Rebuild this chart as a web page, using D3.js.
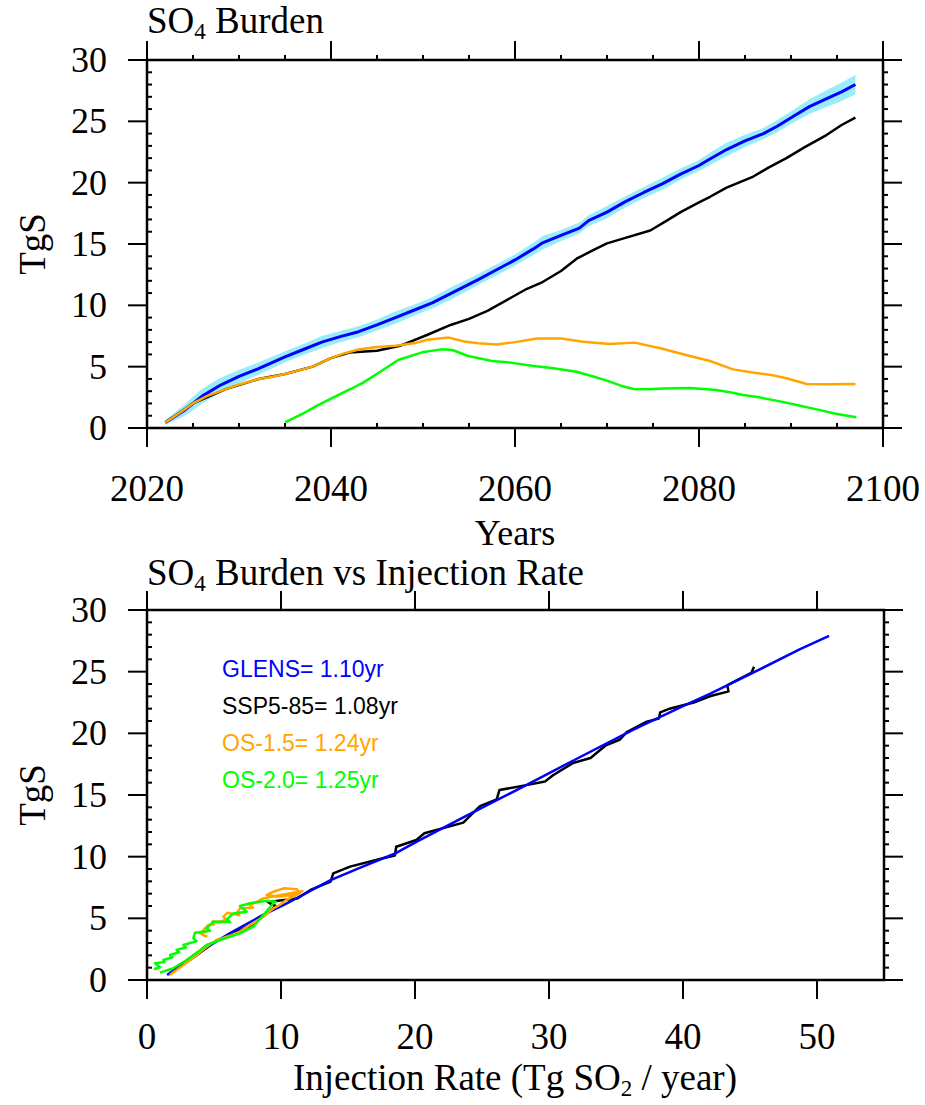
<!DOCTYPE html>
<html>
<head>
<meta charset="utf-8">
<script src="https://cdn.jsdelivr.net/npm/d3@7"></script>
<style>
  body { margin: 0; background: #fff; }
  svg text { font-family: "Liberation Serif", "Times New Roman", serif; fill: #000; }
  .legend text { font-family: "Liberation Sans", Arial, sans-serif; }
</style>
</head>
<body>
<svg id="chart" width="925" height="1105"></svg>
<script>
// ---- data: top panel, SO4 burden (TgS) by year ----
const glensYears = [2022, 2024, 2025, 2026, 2028, 2030, 2032, 2035, 2037, 2039, 2041, 2043, 2045, 2047, 2049, 2051, 2053, 2056, 2058, 2060, 2062, 2063, 2065, 2067, 2068, 2070, 2072, 2074, 2076, 2078, 2080, 2081, 2083, 2085, 2087, 2088.5, 2090, 2092, 2094, 2095.5, 2097];
const glensMean = [0.45, 1.4, 2.0, 2.6, 3.5, 4.2, 4.8, 5.8, 6.4, 7.0, 7.45, 7.85, 8.4, 9.0, 9.6, 10.2, 10.95, 12.1, 12.9, 13.7, 14.6, 15.1, 15.7, 16.3, 16.9, 17.6, 18.45, 19.2, 19.9, 20.7, 21.4, 21.85, 22.7, 23.4, 24.0, 24.6, 25.3, 26.2, 26.9, 27.4, 28.0];
const glensSpread = [0.2, 0.45, 0.55, 0.6, 0.6, 0.55, 0.5, 0.45, 0.45, 0.5, 0.45, 0.45, 0.45, 0.5, 0.45, 0.45, 0.5, 0.45, 0.45, 0.45, 0.5, 0.55, 0.45, 0.45, 0.45, 0.5, 0.45, 0.45, 0.5, 0.45, 0.45, 0.5, 0.55, 0.5, 0.45, 0.5, 0.5, 0.6, 0.7, 0.75, 0.8];

const sspYears = [2022, 2025, 2028.5, 2032, 2035, 2038, 2040, 2042, 2045, 2047.5, 2050.5, 2053, 2055, 2057, 2059.5, 2061.3, 2063, 2065, 2066.7, 2068.5, 2070, 2072, 2074.7, 2076.5, 2078, 2080, 2081.2, 2083, 2085.9, 2087.5, 2089.5, 2091.5, 2093.9, 2095.5, 2097];
const sspBurden = [0.45, 2.0, 3.15, 3.97, 4.4, 5.0, 5.7, 6.15, 6.3, 6.7, 7.6, 8.4, 8.9, 9.55, 10.6, 11.35, 11.9, 12.8, 13.8, 14.5, 15.05, 15.5, 16.1, 16.9, 17.6, 18.4, 18.85, 19.6, 20.5, 21.2, 22.0, 22.9, 23.9, 24.7, 25.3];

const os15Years = [2022, 2023.5, 2025, 2026.5, 2028.5, 2030, 2032, 2033.5, 2035, 2036.5, 2038, 2040, 2041.5, 2043, 2045, 2047, 2049, 2050.5, 2052.8, 2054.5, 2056, 2058, 2060, 2062.4, 2065, 2067.4, 2070.3, 2073, 2075.8, 2079, 2081.2, 2083.7, 2086, 2088, 2089.5, 2091.7, 2094, 2097];
const os15Burden = [0.45, 1.2, 2.0, 2.6, 3.15, 3.55, 3.97, 4.15, 4.4, 4.7, 5.0, 5.7, 6.1, 6.4, 6.6, 6.7, 6.9, 7.2, 7.37, 7.05, 6.9, 6.8, 7.0, 7.3, 7.3, 7.04, 6.85, 6.96, 6.5, 5.87, 5.46, 4.78, 4.5, 4.3, 4.05, 3.59, 3.56, 3.59];

const os20Years = [2035, 2037, 2038.6, 2040, 2042.2, 2043.5, 2045.1, 2047.3, 2049.9, 2052, 2053.2, 2054.9, 2057.5, 2059.5, 2062, 2064, 2066.7, 2068.5, 2070, 2071.5, 2072.9, 2074.5, 2076.1, 2079, 2081.9, 2083.5, 2084.8, 2086.5, 2088.4, 2090.5, 2092.8, 2095, 2097.1];
const os20Burden = [0.45, 1.2, 1.87, 2.4, 3.2, 3.7, 4.46, 5.54, 6.17, 6.41, 6.36, 5.87, 5.46, 5.33, 5.05, 4.9, 4.59, 4.2, 3.86, 3.45, 3.18, 3.15, 3.23, 3.26, 3.1, 2.9, 2.69, 2.5, 2.23, 1.9, 1.52, 1.14, 0.87];

// ---- data: bottom panel, burden (TgS) vs injection rate (Tg SO2/yr) ----
const glensRate = [1.5, 3.7, 6.2, 8.7, 10.4, 13.7, 16.1, 18.6, 20.1, 24, 28.3, 32, 36.3, 40, 42, 45.2, 48.7, 50.9];
const glensVsRate = [0.4, 2.16, 3.8, 5.3, 6.2, 8.1, 9.2, 10.3, 11.2, 13.4, 15.8, 17.9, 20.3, 22.2, 23.2, 24.9, 26.8, 27.9];

const sspRate = [1.6, 3.7, 5.2, 7.7, 9.2, 9.6, 9.2, 9.0, 9.6, 11.2, 12.2, 13.7, 13.9, 15.15, 17.6, 18.5, 18.6, 20.1, 20.7, 23.6, 24.85, 26.1, 26.3, 28.3, 29.7, 30.3, 31.8, 33.1, 34.2, 35.3, 35.8, 37.3, 38.2, 38.3, 39.0, 40.8, 42.0, 43.4, 43.3, 44.0, 45.1, 45.3];
const sspVsRate = [0.45, 2.0, 3.2, 4.4, 5.6, 6.0, 6.2, 6.35, 6.4, 6.6, 7.3, 7.97, 8.65, 9.19, 9.87, 10.1, 10.8, 11.35, 11.9, 12.76, 14.1, 14.65, 15.4, 15.8, 16.1, 16.6, 17.6, 18.0, 19.0, 19.5, 20.1, 20.95, 21.2, 21.7, 22.0, 22.5, 23.0, 23.4, 23.9, 24.3, 24.9, 25.4];

const os15Rate = [1.7, 2.7, 3.7, 4.45, 5.2, 6.2, 6.9, 7.69, 8.68, 9.43, 9.9, 10.4, 11.4, 11.2, 10.2, 9.43, 8.93, 9.9, 10.9, 11.6, 11.0, 10.0, 8.68, 7.69, 7.9, 6.94, 6.69, 6.9, 6.0, 5.7, 5.9, 5.45, 4.9, 5.0, 4.58, 4.2, 4.4, 3.96, 4.3, 4.5];
const os15VsRate = [0.4, 1.2, 2.03, 2.7, 3.24, 3.6, 3.9, 4.46, 5.13, 5.81, 6.08, 6.49, 7.03, 7.35, 7.43, 7.16, 6.89, 6.76, 6.9, 7.2, 7.1, 6.9, 6.62, 6.08, 5.85, 5.81, 5.41, 5.25, 5.45, 5.13, 4.9, 4.73, 4.75, 4.5, 4.46, 4.05, 3.9, 3.78, 3.6, 3.5];

const os20Rate = [0.97, 1.96, 2.96, 3.83, 4.45, 5.45, 6.94, 7.93, 8.68, 9.43, 9.6, 8.93, 7.69, 6.94, 7.44, 6.44, 5.95, 6.2, 4.95, 4.45, 4.7, 3.58, 3.46, 3.7, 2.71, 2.9, 2.21, 2.4, 1.72, 1.9, 1.22, 1.3, 0.6, 0.97, 0.52];
const os20VsRate = [0.6, 0.95, 1.62, 2.3, 2.84, 3.24, 3.78, 4.32, 5.27, 6.22, 6.35, 6.43, 6.22, 6.0, 5.54, 5.4, 4.92, 4.7, 4.73, 4.19, 4.0, 3.84, 3.38, 3.15, 2.84, 2.65, 2.43, 2.25, 2.03, 1.85, 1.62, 1.45, 1.35, 1.03, 0.87];

// ---- ticks and legend text ----
const yearTicks = [2020, 2040, 2060, 2080, 2100];
const rateTicks = [0, 10, 20, 30, 40, 50];
const burdenTicks = [0, 5, 10, 15, 20, 25, 30];
const legendItems = [
  { label: "GLENS= 1.10yr", color: "#0000ff" },
  { label: "SSP5-85= 1.08yr", color: "#000000" },
  { label: "OS-1.5= 1.24yr", color: "#ffa500" },
  { label: "OS-2.0= 1.25yr", color: "#00ff00" }
];

const svg = d3.select("#chart");
const zip = (xs, ys) => xs.map((x, i) => [x, ys[i]]);

// panel frame + ticks, NCL style (major ticks outward, small minor ticks)
function drawFrame(g, x, y, xMajor, xMinor, yMajor, yMinor) {
  const [x0, x1] = x.range();
  const [y0, y1] = y.range(); // y0 bottom, y1 top
  const major = 19, minor = 5;
  const tickLines = [];
  xMajor.forEach(v => {
    tickLines.push([x(v), y0, x(v), y0 + major]);
    tickLines.push([x(v), y1, x(v), y1 - major]);
  });
  xMinor.forEach(v => {
    tickLines.push([x(v), y0, x(v), y0 - minor]);
    tickLines.push([x(v), y1, x(v), y1 - minor]);
  });
  yMajor.forEach(v => {
    tickLines.push([x0, y(v), x0 - major, y(v)]);
    tickLines.push([x1, y(v), x1 + major, y(v)]);
  });
  yMinor.forEach(v => {
    tickLines.push([x0, y(v), x0 + minor, y(v)]);
    tickLines.push([x1, y(v), x1 + minor, y(v)]);
  });
  g.selectAll("line.tick").data(tickLines).join("line")
    .attr("class", "tick")
    .attr("x1", d => d[0]).attr("y1", d => d[1])
    .attr("x2", d => d[2]).attr("y2", d => d[3])
    .attr("stroke", "#000").attr("stroke-width", 2);
  g.append("rect")
    .attr("x", x0).attr("y", y1)
    .attr("width", x1 - x0).attr("height", y0 - y1)
    .attr("fill", "none").attr("stroke", "#000").attr("stroke-width", 2.5);

  g.selectAll("text.ylab").data(yMajor).join("text")
    .attr("class", "ylab")
    .attr("x", x0 - 40).attr("y", d => y(d) + 12)
    .attr("text-anchor", "end")
    .attr("font-size", 36)
    .text(d => d);
}

function drawTitle(g, x, y, before, sub, after) {
  const t = g.append("text").attr("x", x).attr("y", y).attr("font-size", 37);
  t.append("tspan").text(before);
  t.append("tspan").attr("font-size", 23).attr("dy", 6).text(sub);
  t.append("tspan").attr("dy", -6).text(after);
}

// ================= top panel =================
const xTop = d3.scaleLinear().domain([2020, 2100]).range([147, 883]);
const yTop = d3.scaleLinear().domain([0, 30]).range([428, 60]);
const topPanel = svg.append("g");

const bandData = glensYears.map((yr, i) => ({ yr, lo: glensMean[i] - glensSpread[i], hi: glensMean[i] + glensSpread[i] }));
topPanel.append("path")
  .datum(bandData)
  .attr("fill", "#9aecfa")
  .attr("d", d3.area().x(d => xTop(d.yr)).y0(d => yTop(d.lo)).y1(d => yTop(d.hi)));

const lineTop = d3.line().x(d => xTop(d[0])).y(d => yTop(d[1]));
const topSeries = [
  { pts: zip(sspYears, sspBurden), color: "#000000", w: 2.5 },
  { pts: zip(os20Years, os20Burden), color: "#00ff00", w: 2.5 },
  { pts: zip(glensYears, glensMean), color: "#0000ff", w: 3 },
  { pts: zip(os15Years, os15Burden), color: "#ffa500", w: 2.5 }
];
topPanel.selectAll("path.series").data(topSeries).join("path")
  .attr("class", "series")
  .attr("fill", "none")
  .attr("stroke", d => d.color)
  .attr("stroke-width", d => d.w)
  .attr("stroke-linejoin", "round")
  .attr("d", d => lineTop(d.pts));

const yearMinor = d3.range(2025, 2100, 5).filter(v => v % 20 !== 0);
drawFrame(topPanel, xTop, yTop, yearTicks, yearMinor, burdenTicks, d3.range(1, 30).filter(v => v % 5 !== 0));

topPanel.selectAll("text.xlab").data(yearTicks).join("text")
  .attr("class", "xlab")
  .attr("x", d => xTop(d)).attr("y", 501)
  .attr("text-anchor", "middle").attr("font-size", 37)
  .text(d => d);

drawTitle(topPanel, 147, 33, "SO", "4", " Burden");
topPanel.append("text").attr("x", 515).attr("y", 545)
  .attr("text-anchor", "middle").attr("font-size", 36).text("Years");
topPanel.append("text").attr("transform", "translate(45,244) rotate(-90)")
  .attr("text-anchor", "middle").attr("font-size", 37).text("TgS");

// ================= bottom panel =================
const xBot = d3.scaleLinear().domain([0, 55]).range([147, 884]);
const yBot = d3.scaleLinear().domain([0, 30]).range([980, 610]);
const botPanel = svg.append("g");

const lineBot = d3.line().x(d => xBot(d[0])).y(d => yBot(d[1]));
const botSeries = [
  { pts: zip(sspRate, sspVsRate), color: "#000000" },
  { pts: zip(glensRate, glensVsRate), color: "#0000ff" },
  { pts: zip(os15Rate, os15VsRate), color: "#ffa500" },
  { pts: zip(os20Rate, os20VsRate), color: "#00ff00" }
];
botPanel.selectAll("path.series").data(botSeries).join("path")
  .attr("class", "series")
  .attr("fill", "none")
  .attr("stroke", d => d.color)
  .attr("stroke-width", 2.5)
  .attr("stroke-linejoin", "round")
  .attr("d", d => lineBot(d.pts));

drawFrame(botPanel, xBot, yBot, rateTicks, [], burdenTicks, d3.range(1, 30).filter(v => v % 5 !== 0));

botPanel.selectAll("text.xlab").data(rateTicks).join("text")
  .attr("class", "xlab")
  .attr("x", d => xBot(d)).attr("y", 1049)
  .attr("text-anchor", "middle").attr("font-size", 37)
  .text(d => d);

drawTitle(botPanel, 147, 585, "SO", "4", " Burden vs Injection Rate");
const xt = botPanel.append("text").attr("x", 515).attr("y", 1090)
  .attr("text-anchor", "middle").attr("font-size", 37);
xt.append("tspan").text("Injection Rate (Tg SO");
xt.append("tspan").attr("font-size", 23).attr("dy", 6).text("2");
xt.append("tspan").attr("dy", -6).text(" / year)");
botPanel.append("text").attr("transform", "translate(45,795) rotate(-90)")
  .attr("text-anchor", "middle").attr("font-size", 37).text("TgS");

// legend text
const legend = botPanel.append("g").attr("class", "legend");
legend.selectAll("text").data(legendItems).join("text")
  .attr("x", 222)
  .attr("y", (d, i) => 677 + i * 37)
  .attr("font-size", 23)
  .style("fill", d => d.color)
  .text(d => d.label);
</script>
</body>
</html>
